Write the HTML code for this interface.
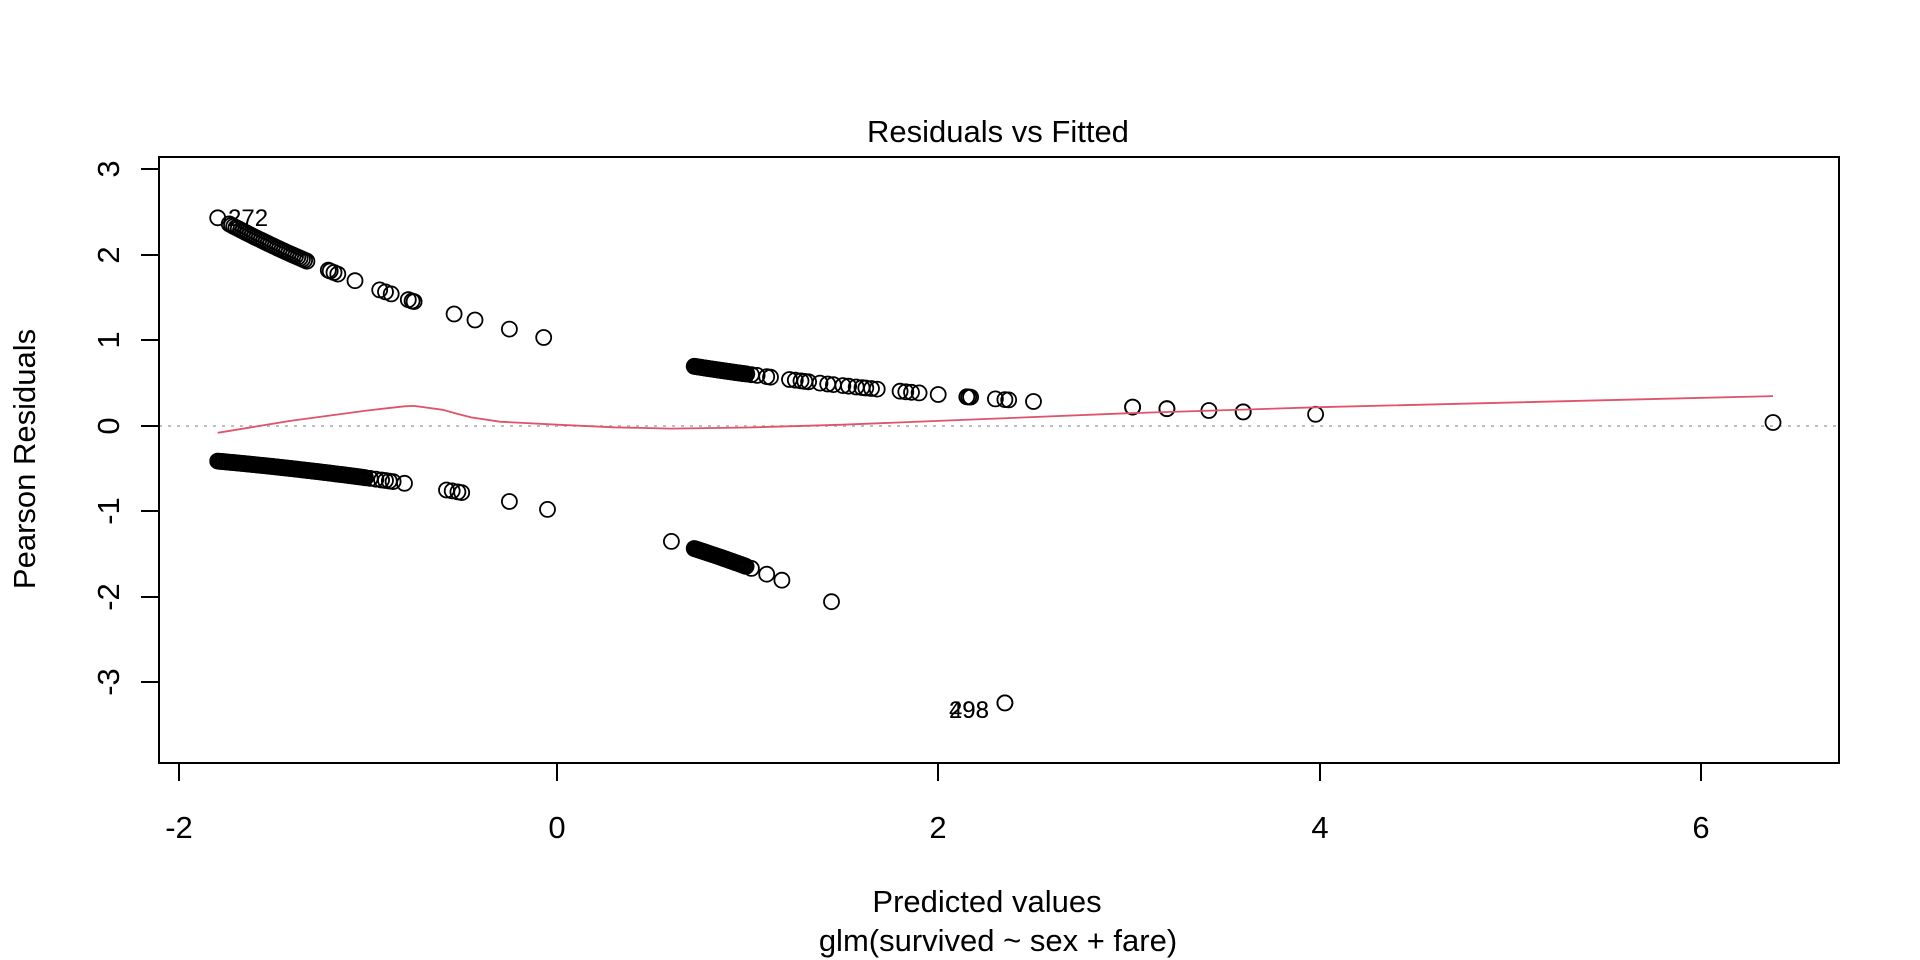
<!DOCTYPE html>
<html><head><meta charset="utf-8"><style>
html,body{margin:0;padding:0;background:#fff;}
svg{display:block;font-family:"Liberation Sans",Arial,sans-serif;}
</style></head><body>
<svg id="s" width="1920" height="960" viewBox="0 0 1920 960" xmlns="http://www.w3.org/2000/svg">
<rect width="1920" height="960" fill="#fff"/>
<text x="998" y="142" font-size="31" text-anchor="middle">Residuals vs Fitted</text>
<line x1="159" y1="426" x2="1839" y2="426" stroke="#BEBEBE" stroke-width="2" stroke-dasharray="3 6"/>
<g id="pts" fill="none" stroke="#000" stroke-width="1.8"></g>
<polyline id="lo" fill="none" stroke="#DF536B" stroke-width="1.8"/>
<text x="228" y="226" font-size="24">272</text>
<text x="989" y="718" font-size="24" text-anchor="end">298</text>
<text x="989" y="718" font-size="24" text-anchor="end">498</text>
<rect x="159" y="157" width="1680" height="606" fill="none" stroke="#000" stroke-width="2"/>
<g stroke="#000" stroke-width="2">
<line x1="179" y1="763" x2="1702" y2="763"/>
<line x1="179" y1="763" x2="179" y2="781"/>
<line x1="557" y1="763" x2="557" y2="781"/>
<line x1="938" y1="763" x2="938" y2="781"/>
<line x1="1320" y1="763" x2="1320" y2="781"/>
<line x1="1701" y1="763" x2="1701" y2="781"/>
<line x1="159" y1="169" x2="159" y2="682"/>
<line x1="141" y1="169" x2="159" y2="169"/>
<line x1="141" y1="255" x2="159" y2="255"/>
<line x1="141" y1="340" x2="159" y2="340"/>
<line x1="141" y1="426" x2="159" y2="426"/>
<line x1="141" y1="511" x2="159" y2="511"/>
<line x1="141" y1="597" x2="159" y2="597"/>
<line x1="141" y1="682" x2="159" y2="682"/>
</g>
<g font-size="31" text-anchor="middle">
<text x="179" y="838">-2</text>
<text x="557" y="838">0</text>
<text x="938" y="838">2</text>
<text x="1320" y="838">4</text>
<text x="1701" y="838">6</text>
<text x="987" y="912">Predicted values</text>
<text x="998" y="951">glm(survived ~ sex + fare)</text>
<g transform="translate(119,0)">
<text transform="translate(0,169) rotate(-90)">3</text>
<text transform="translate(0,255) rotate(-90)">2</text>
<text transform="translate(0,340) rotate(-90)">1</text>
<text transform="translate(0,426) rotate(-90)">0</text>
<text transform="translate(0,511) rotate(-90)">-1</text>
<text transform="translate(0,597) rotate(-90)">-2</text>
<text transform="translate(0,682) rotate(-90)">-3</text>
</g>
<text transform="translate(35,459) rotate(-90)">Pearson Residuals</text>
</g>
</svg>
<script>
var X=function(v){return 557+190.6*v;},Y=function(v){return 426-85.5*v;};
var g=document.getElementById('pts'),h='';
function pt(e,surv){var r=surv?Math.exp(-e/2):-Math.exp(e/2);h+='<circle cx="'+X(e).toFixed(1)+'" cy="'+Y(r).toFixed(1)+'" r="7.5"/>';}
var e;
pt(-1.78,1);
for(e=-1.72;e<=-1.3;e+=0.012)pt(e,1);
[-1.2,-1.19,-1.17,-1.15,-1.06,-0.93,-0.9,-0.87,-0.78,-0.76,-0.75,-0.54,-0.43,-0.25,-0.07].forEach(function(v){pt(v,1)});
for(e=-1.78;e<=-1.0;e+=0.008)pt(e,0);
[-0.98,-0.95,-0.92,-0.9,-0.88,-0.86,-0.8,-0.58,-0.55,-0.52,-0.5,-0.25,-0.05].forEach(function(v){pt(v,0)});
for(e=0.72;e<=1.0;e+=0.006)pt(e,1);
[1.02,1.05,1.1,1.12,1.22,1.25,1.28,1.3,1.32,1.38,1.42,1.45,1.5,1.53,1.57,1.6,1.62,1.65,1.68,1.8,1.83,1.86,1.9,2.0,2.15,2.16,2.17,2.3,2.35,2.37,2.5,3.02,3.02,3.2,3.2,3.42,3.6,3.6,3.98,6.38].forEach(function(v){pt(v,1)});
pt(0.6,0);
for(e=0.72;e<=1.0;e+=0.008)pt(e,0);
[1.02,1.1,1.18,1.44,2.35,2.35].forEach(function(v){pt(v,0)});
g.innerHTML=h;
var lo=[[-1.78,-0.08],[-1.4,0.06],[-1.0,0.18],[-0.8,0.23],[-0.75,0.235],[-0.6,0.19],[-0.52,0.14],[-0.45,0.1],[-0.3,0.05],[0,0.015],[0.3,-0.015],[0.6,-0.03],[1,-0.018],[1.5,0.015],[2,0.06],[3,0.15],[4,0.22],[6.38,0.35]];
document.getElementById('lo').setAttribute('points',lo.map(function(p){return X(p[0]).toFixed(1)+','+Y(p[1]).toFixed(1)}).join(' '));
</script>
</body></html>
